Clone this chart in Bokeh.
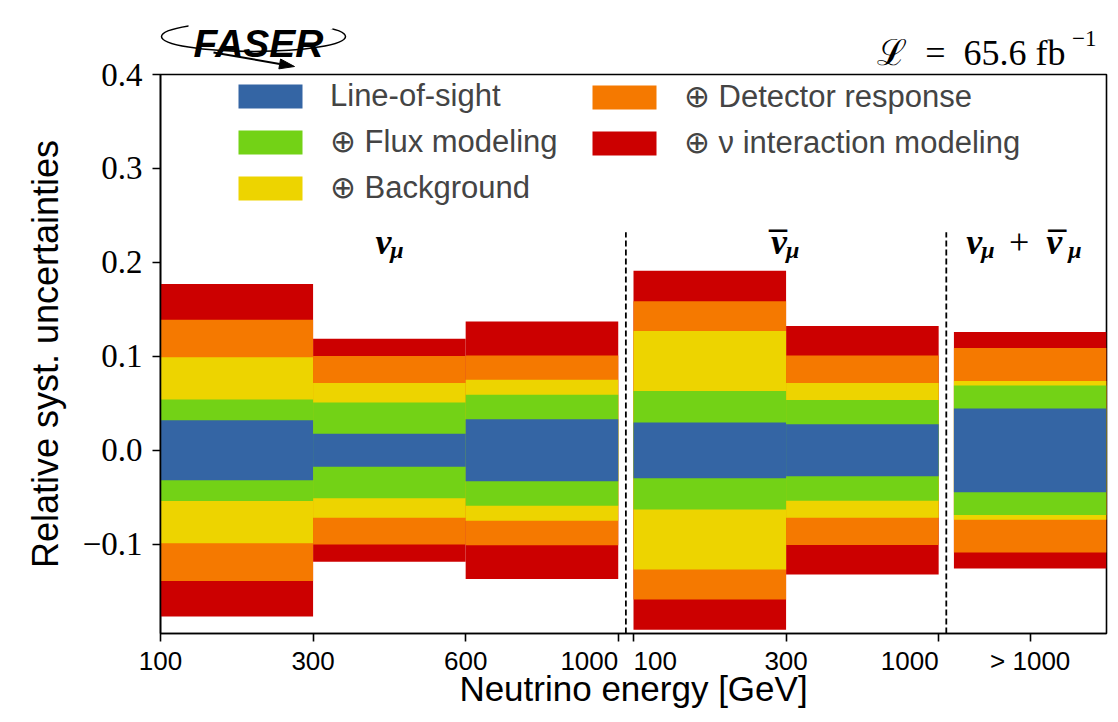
import math
from bokeh.plotting import figure
from bokeh.models import Range1d, FixedTicker, Legend, LegendItem, Label
from bokeh.embed import file_html
from bokeh.resources import INLINE

# --- data -------------------------------------------------------------
# energy bins: nu_mu (3 bins), anti-nu_mu (2 bins), combined (1 bin)
bin_group = [0, 0, 0, 1, 1, 2]
group_edges = [["100", "300", "600", "1000"], ["100", "300", "1000"], ["> 1000"]]

# cumulative relative systematic uncertainty (quadrature sums), per bin
los_unc = [0.032, 0.0175, 0.033, 0.0297, 0.0276, 0.0446]
flux_unc = [0.054, 0.051, 0.059, 0.063, 0.0536, 0.069]
bkg_unc = [0.099, 0.0717, 0.075, 0.127, 0.0717, 0.0738]
det_unc = [0.139, 0.1003, 0.101, 0.1587, 0.1008, 0.1088]
nuint_unc = [0.177, 0.1186, 0.137, 0.191, 0.1322, 0.1258]

y_ticks = [-0.1, 0.0, 0.1, 0.2, 0.3, 0.4]
y_tick_labels = ["\u22120.1", "0.0", "0.1", "0.2", "0.3", "0.4"]

# --- bin geometry -----------------------------------------------------
GAP = 0.1
left = [i + GAP * g for i, g in enumerate(bin_group)]
right = [l + 1 for l in left]
n_groups = len(group_edges)
x_max = right[-1]
y_min, y_max = -0.195, 0.4

FIG = "\u2007"  # figure space, shifts labels that sit next to a separator
ticks, overrides = [], {}
separators, centers = [], []
for g in range(n_groups):
    idx = [i for i, gg in enumerate(bin_group) if gg == g]
    centers.append((left[idx[0]] + right[idx[-1]]) / 2)
    if g < n_groups - 1:
        nxt = [i for i, gg in enumerate(bin_group) if gg == g + 1][0]
        separators.append((right[idx[-1]] + left[nxt]) / 2)
    labels = group_edges[g]
    if len(labels) == 1:
        pos = [(left[idx[0]] + right[idx[0]]) / 2]
    else:
        pos = [left[idx[0]]] + [right[i] for i in idx]
    for k, (x, lab) in enumerate(zip(pos, labels)):
        text = lab
        if len(labels) > 1 and k == 0 and g > 0:
            text = FIG * len(lab) + lab
        elif len(labels) > 1 and k == len(labels) - 1 and g < n_groups - 1:
            text = lab + FIG * len(lab)
        ticks.append(x)
        overrides[x] = text

# --- figure -----------------------------------------------------------
W, H = 1118, 722
B_LEFT, B_RIGHT, B_TOP, B_BOTTOM = 160, 12, 74, 89
p = figure(width=W, height=H, x_range=Range1d(0, x_max), y_range=Range1d(y_min, y_max),
           output_backend="svg", toolbar_location=None,
           min_border_left=B_LEFT, min_border_right=B_RIGHT,
           min_border_top=B_TOP, min_border_bottom=B_BOTTOM)
# pixel-like ranges for the header decorations above the frame
p.extra_x_ranges = {"px": Range1d(B_LEFT, W - B_RIGHT)}
p.extra_y_ranges = {"px": Range1d(H - B_BOTTOM, B_TOP)}

p.xgrid.visible = False
p.ygrid.visible = False
p.outline_line_color = "black"
p.outline_line_width = 1.6
p.background_fill_color = "white"
p.border_fill_color = "white"

layers = [
    (nuint_unc, "#CC0000", "\u2295 \u03bd interaction modeling"),
    (det_unc, "#F57900", "\u2295 Detector response"),
    (bkg_unc, "#EDD400", "\u2295 Background"),
    (flux_unc, "#73D216", "\u2295 Flux modeling"),
    (los_unc, "#3465A4", "Line-of-sight"),
]
rends = {}
for vals, color, name in layers:
    rends[name] = p.quad(left=left, right=right, bottom=[-v for v in vals], top=vals,
                         fill_color=color, line_color=None)

# dashed separators between the neutrino samples
p.segment(x0=separators, y0=[y_min] * len(separators), x1=separators, y1=[0.232] * len(separators),
          line_color="black", line_width=1.8, line_dash="6 3")

# axes
for ax in (p.xaxis[0], p.yaxis[0]):
    ax.axis_line_width = 1.6
    ax.major_tick_line_width = 1.6
    ax.major_tick_out = 8
    ax.major_tick_in = 0
    ax.minor_tick_line_color = None
    ax.axis_label_text_font_style = "normal"
    ax.axis_label_text_font = "Liberation Sans"
    ax.axis_label_text_color = "black"
    ax.major_label_text_color = "black"

p.xaxis.ticker = FixedTicker(ticks=ticks)
p.xaxis.major_label_overrides = overrides
p.xaxis.major_label_text_font = "Liberation Sans"
p.xaxis.major_label_text_font_size = "26px"
p.xaxis.major_label_standoff = 4
p.xaxis.axis_label = "Neutrino energy [GeV]"
p.xaxis.axis_label_text_font_size = "35px"
p.xaxis.axis_label_standoff = -10

p.yaxis.ticker = FixedTicker(ticks=y_ticks)
p.yaxis.major_label_overrides = dict(zip(y_ticks, y_tick_labels))
p.yaxis.major_label_text_font = "Liberation Serif"
p.yaxis.major_label_text_font_size = "33px"
p.yaxis.major_label_standoff = 10
p.yaxis.axis_label = "Relative syst. uncertainties"
p.yaxis.axis_label_text_font_size = "36px"
p.yaxis.axis_label_standoff = 14

# legends (two columns)
leg_style = dict(glyph_width=80, glyph_height=30, label_standoff=20, spacing=9,
                 padding=0, margin=0, border_line_color=None, background_fill_alpha=0,
                 label_text_font="Liberation Sans", label_text_font_size="31px")
col1 = ["Line-of-sight", "\u2295 Flux modeling", "\u2295 Background"]
col2 = ["\u2295 Detector response", "\u2295 \u03bd interaction modeling"]
leg1 = Legend(items=[LegendItem(label=n, renderers=[rends[n]]) for n in col1],
              location=(70, 427), **leg_style)
leg2 = Legend(items=[LegendItem(label=n, renderers=[rends[n]]) for n in col2],
              location=(424, 472), **leg_style)
p.add_layout(leg1)
p.add_layout(leg2)

# sample labels
serif = "Liberation Serif"
def sym(x, y, text, size, align, dx=0, dy=0, style="bold italic"):
    p.add_layout(Label(x=x, y=y, text=text, x_offset=dx, y_offset=dy, text_align=align,
                       text_baseline="alphabetic", text_font=serif, text_font_style=style,
                       text_font_size=size, text_color="black"))

Y_SYM = 0.222
sym(centers[0], Y_SYM, "\u03bd", "36px", "right", dx=2)
sym(centers[0], Y_SYM, "\u03bc", "24px", "left", dx=1, dy=-8)
sym(centers[1], Y_SYM, "\u03bd", "36px", "right", dx=1)
sym(centers[1], Y_SYM, "\u00af", "36px", "center", dx=-8, dy=-3, style="bold")
sym(centers[1], Y_SYM, "\u03bc", "24px", "left", dx=0, dy=-8)
sym(centers[2], Y_SYM, "\u03bd", "36px", "right", dx=-48)
sym(centers[2], Y_SYM, "\u03bc", "24px", "left", dx=-49, dy=-8)
sym(centers[2], Y_SYM, "+", "36px", "center", dx=-11, style="normal")
sym(centers[2], Y_SYM, "\u03bd", "36px", "left", dx=16)
sym(centers[2], Y_SYM, "\u00af", "36px", "center", dx=27, dy=-3, style="bold")
sym(centers[2], Y_SYM, "\u03bc", "24px", "left", dx=38, dy=-8)

# --- header: experiment logo and luminosity --------------------------
hdr = dict(x_range_name="px", y_range_name="px", level="annotation")
p.ellipse(x=[253], y=[36], width=[184], height=[30], fill_color=None,
          line_color="black", line_width=1.5, **hdr)
p.quad(left=[188], right=[332], top=[14], bottom=[29], fill_color="white", line_color=None, **hdr)
p.text(x=[258], y=[43], text=["FASER"], text_align="center", text_baseline="alphabetic",
       text_font_size="39px", text_font_style="bold italic", text_color="black", **hdr)

# arrow under the logo
ax0, ay0, ax1, ay1 = 213, 52, 294, 66
ang = math.atan2(ay1 - ay0, ax1 - ax0)
head_len, head_half = 15, 5
bx, by = ax1 - head_len * math.cos(ang), ay1 - head_len * math.sin(ang)
nx, ny = -math.sin(ang), math.cos(ang)
p.line(x=[ax0, bx], y=[ay0, by], line_color="black", line_width=2, **hdr)
p.patch(x=[ax1, bx + head_half * nx, bx - head_half * nx],
        y=[ay1, by + head_half * ny, by - head_half * ny],
        fill_color="black", line_color="black", line_width=1, **hdr)

# integrated luminosity
p.text(x=[1065], y=[52], text=["\u2112\u2002=\u200265.6\u2005fb"], text_align="right",
       text_baseline="alphabetic", text_font=serif, text_font_size="36px",
       text_color="black", **hdr)
p.text(x=[1096], y=[38], text=["\u22121"], text_align="right",
       text_baseline="alphabetic", text_font=serif, text_font_size="23px",
       text_color="black", **hdr)

open("out.html", "w").write(file_html(p, INLINE))
